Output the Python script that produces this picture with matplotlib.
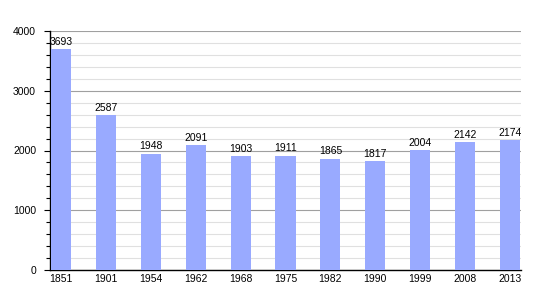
import matplotlib
matplotlib.use("Agg")
import matplotlib.pyplot as plt
from matplotlib.ticker import MultipleLocator

years = ["1851", "1901", "1954", "1962", "1968", "1975", "1982", "1990", "1999", "2008", "2013"]
population = [3693, 2587, 1948, 2091, 1903, 1911, 1865, 1817, 2004, 2142, 2174]

plt.rcParams['font.family'] = ['Liberation Sans', 'DejaVu Sans']

fig = plt.figure(figsize=(5.5, 3.0), dpi=100)
ax = fig.add_axes([50/550, 1-270/300, 471/550, 239/300])

x = list(range(len(years)))
ax.bar(x, population, width=0.45, color='#99aaff', zorder=3)
for xi, v in zip(x, population):
    ax.text(xi, v + 40, str(v), ha='center', va='bottom', fontsize=7.5, color='black', zorder=4)

ax.set_xlim(-0.25, len(years) - 0.75)
ax.set_ylim(0, 4000)
ax.set_xticks(x)
ax.set_xticklabels(years, fontsize=7.5)
ax.yaxis.set_major_locator(MultipleLocator(1000))
ax.yaxis.set_minor_locator(MultipleLocator(200))
ax.tick_params(axis='y', which='major', labelsize=7.5, length=4, width=0.8, color='black', pad=6)
ax.tick_params(axis='y', which='minor', length=3, width=0.8, color='black')
ax.tick_params(axis='x', length=0, pad=3)
ax.grid(axis='y', which='major', color='#a0a0a0', linewidth=0.8, zorder=0)
ax.grid(axis='y', which='minor', color='#e0e0e0', linewidth=0.8, zorder=0)
for s in ['top', 'right']:
    ax.spines[s].set_visible(False)
ax.spines['left'].set_linewidth(1.0)
ax.spines['bottom'].set_linewidth(1.0)

fig.savefig("out.png", dpi=100)
